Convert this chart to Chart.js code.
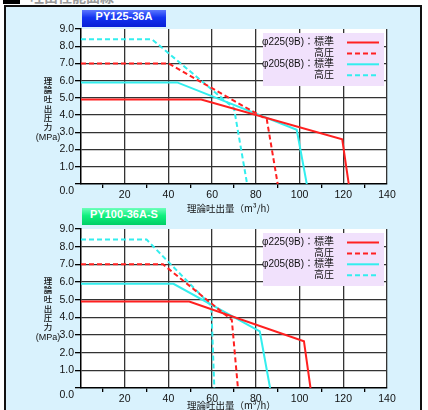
<!DOCTYPE html>
<html lang="ja">
<head>
<meta charset="utf-8">
<script src="https://cdn.jsdelivr.net/npm/chart.js@4.4.1/dist/chart.umd.min.js"></script>
<style>
  body { margin: 0; width: 428px; height: 410px; overflow: hidden; background: #fff; position: relative;
         font-family: "Liberation Sans", "Noto Sans CJK JP", sans-serif; }
  .heading { position: absolute; left: 3px; top: -14px; font-size: 14px; font-weight: bold; color: #9a9a9a; white-space: nowrap; }
  .heading i { display: inline-block; width: 17px; height: 14px; background: #000; vertical-align: -2px; margin-right: 10px; }
  .panel { position: absolute; left: 4px; top: 5px; width: 418px; height: 420px; box-sizing: border-box;
           border: 2px solid #111; background: #d9f2fd; }
  canvas { position: absolute; left: 0; }
  .badge { position: absolute; left: 82px; width: 84px; height: 17px; line-height: 17px; text-align: center;
           color: #fff; font: bold 11px "Liberation Sans", sans-serif; }
  .blue { background: linear-gradient(#5a76ff, #1233f0 45%, #0820d6); }
  .green { background: linear-gradient(#6dffbb, #10f07e 45%, #00cf66); }
  .ytitle { position: absolute; left: 38px; width: 20px; text-align: center; font-size: 8.5px; font-weight: 500;
            line-height: 9.2px; color: #111; font-family: "Noto Sans CJK JP", sans-serif; }
  .ytitle span { display: block; margin-top: 2px; margin-left: -4px; width: 28px; font-size: 9px; font-weight: normal;
                 font-family: "Liberation Sans", "Noto Sans CJK JP", sans-serif; }
  .xtitle { position: absolute; left: 187px; font-size: 9.5px; color: #111; white-space: nowrap;
            font-family: "Noto Sans CJK JP", sans-serif; }
</style>
</head>
<body>
<div class="heading"><i></i>吐出性能曲線</div>
<div class="panel"></div>

<canvas id="chartTop" width="428" height="205" style="top:0"></canvas>
<canvas id="chartBottom" width="428" height="205" style="top:205px"></canvas>

<div class="badge blue" style="top:10px">PY125-36A</div>
<div class="badge green" style="top:208px">PY100-36A-S</div>

<div class="ytitle" style="top:76px">理<br>論<br>吐<br>出<br>圧<br>力<span>(MPa)</span></div>
<div class="ytitle" style="top:276px">理<br>論<br>吐<br>出<br>圧<br>力<span>(MPa)</span></div>
<div class="xtitle" style="top:201px">理論吐出量（m³/h）</div>
<div class="xtitle" style="top:398px">理論吐出量（m³/h）</div>

<script>
// 凡例ラベル
const seriesLabels = ['φ225(9B)：標準', '高圧', 'φ205(8B)：標準', '高圧'];

// 目盛り
const xTickLabels = [20, 40, 60, 80, 100, 120, 140];
const yTickLabels = ['0.0', '1.0', '2.0', '3.0', '4.0', '5.0', '6.0', '7.0', '8.0', '9.0'];

// PY125-36A (吐出量 m3/h / 圧力 MPa)
const a225StdX = [0, 55, 119.5, 122.5];
const a225StdY = [4.9, 4.9, 2.6, 0];
const a225HighX = [0, 40, 85, 90];
const a225HighY = [7.0, 7.0, 3.75, 0];
const a205StdX = [0, 44, 98.7, 103.3];
const a205StdY = [5.9, 5.9, 3.15, 0];
const a205HighX = [0, 32.5, 70, 76];
const a205HighY = [8.4, 8.4, 4.4, 0];

// PY100-36A-S
const b225StdX = [0, 49.5, 102, 105];
const b225StdY = [4.9, 4.9, 2.65, 0];
const b225HighX = [0, 37.5, 69, 71.8];
const b225HighY = [7.0, 7.0, 3.85, 0];
const b205StdX = [0, 42.3, 81.8, 86.5];
const b205StdY = [5.9, 5.9, 3.2, 0];
const b205HighX = [0, 30, 59.6, 61];
const b205HighY = [8.4, 8.4, 4.66, 0];

const RED = '#ff2020';
const CYAN = '#33eeee';
const DASH = [5, 3];
const TICK_FONT = { family: '"Liberation Sans"', size: 10.5 };

function pts(xs, ys) {
    return xs.map((x, i) => ({ x: x, y: ys[i] }));
}

function datasets(list) {
    const styles = [
        { borderColor: RED },
        { borderColor: RED, borderDash: DASH },
        { borderColor: CYAN },
        { borderColor: CYAN, borderDash: DASH }
    ];
    return list.map((d, i) => Object.assign({
        label: seriesLabels[i],
        data: pts(d[0], d[1]),
        borderWidth: 2,
        pointRadius: 0,
        tension: 0,
        fill: false
    }, styles[i]));
}

// プロット領域を白で塗る
const whiteArea = {
    id: 'whiteArea',
    beforeDraw(chart) {
        const a = chart.chartArea;
        chart.ctx.save();
        chart.ctx.fillStyle = '#fff';
        chart.ctx.fillRect(a.left, a.top, a.right - a.left, a.bottom - a.top);
        chart.ctx.restore();
    }
};

// 右上の凡例ボックス と 0.0 ラベル（x目盛りと重ならないよう少し下げる）
const boxLegend = {
    id: 'boxLegend',
    afterDatasetsDraw(chart) {
        const ctx = chart.ctx;
        const a = chart.chartArea;
        const r = a.right - 3, t = a.top + 4, w = 121, h = 53;
        ctx.save();
        ctx.fillStyle = '#f1e1fc';
        ctx.fillRect(r - w, t, w, h);
        ctx.font = '10px "Liberation Sans", "Noto Sans CJK JP"';
        ctx.textAlign = 'right';
        ctx.textBaseline = 'middle';
        chart.data.datasets.forEach((ds, i) => {
            const y = t + 9.5 + i * 10.9;
            ctx.fillStyle = '#111';
            ctx.fillText(ds.label, r - 50, y);
            ctx.strokeStyle = ds.borderColor;
            ctx.lineWidth = 2;
            ctx.setLineDash(ds.borderDash || []);
            ctx.beginPath();
            ctx.moveTo(r - 37, y);
            ctx.lineTo(r - 5, y);
            ctx.stroke();
        });
        ctx.restore();
    },
    afterDraw(chart) {
        const ctx = chart.ctx;
        const ys = chart.scales.y;
        ctx.save();
        ctx.font = TICK_FONT.size + 'px ' + TICK_FONT.family;
        ctx.fillStyle = '#111';
        ctx.textAlign = 'right';
        ctx.textBaseline = 'middle';
        ctx.fillText(yTickLabels[0], ys.right - 7, ys.getPixelForValue(0) + 7);
        ctx.restore();
    }
};

function makeChart(id, list, padTop, xHeight) {
    return new Chart(document.getElementById(id), {
        type: 'line',
        data: { datasets: datasets(list) },
        plugins: [whiteArea, boxLegend],
        options: {
            responsive: false,
            animation: false,
            layout: { padding: { top: padTop, left: 31, right: 41, bottom: 0 } },
            plugins: { legend: { display: false }, tooltip: { enabled: false } },
            scales: {
                x: {
                    type: 'linear', min: 0, max: 140,
                    afterFit: s => { s.height = xHeight; },
                    border: { color: '#000', width: 1.5 },
                    grid: {
                        lineWidth: 1.3,
                        tickLength: 4,
                        color: c => (c.tick.value % 20 === 0 && c.tick.value !== 0) ? '#333' : 'rgba(0,0,0,0)',
                        tickColor: c => (c.tick.value % 20 !== 0) ? '#000' : 'rgba(0,0,0,0)'
                    },
                    ticks: {
                        stepSize: 10, autoSkip: false, maxRotation: 0, padding: 1, color: '#111',
                        font: TICK_FONT,
                        callback: v => xTickLabels.includes(v) ? String(v) : ''
                    }
                },
                y: {
                    type: 'linear', min: 0, max: 9,
                    afterFit: s => { s.width = 50; },
                    border: { color: '#000', width: 1.5 },
                    grid: {
                        lineWidth: 1.3,
                        tickLength: 6,
                        color: c => (c.tick.value === 0 || c.tick.value === 9) ? 'rgba(0,0,0,0)' : '#333',
                        tickColor: '#000'
                    },
                    ticks: {
                        stepSize: 1, padding: 1, color: '#111',
                        font: TICK_FONT,
                        callback: v => v === 0 ? '' : yTickLabels[v]
                    }
                }
            }
        }
    });
}

makeChart('chartTop', [
    [a225StdX, a225StdY], [a225HighX, a225HighY], [a205StdX, a205StdY], [a205HighX, a205HighY]
], 29, 21);

makeChart('chartBottom', [
    [b225StdX, b225StdY], [b225HighX, b225HighY], [b205StdX, b205StdY], [b205HighX, b205HighY]
], 24, 22);
</script>
</body>
</html>
